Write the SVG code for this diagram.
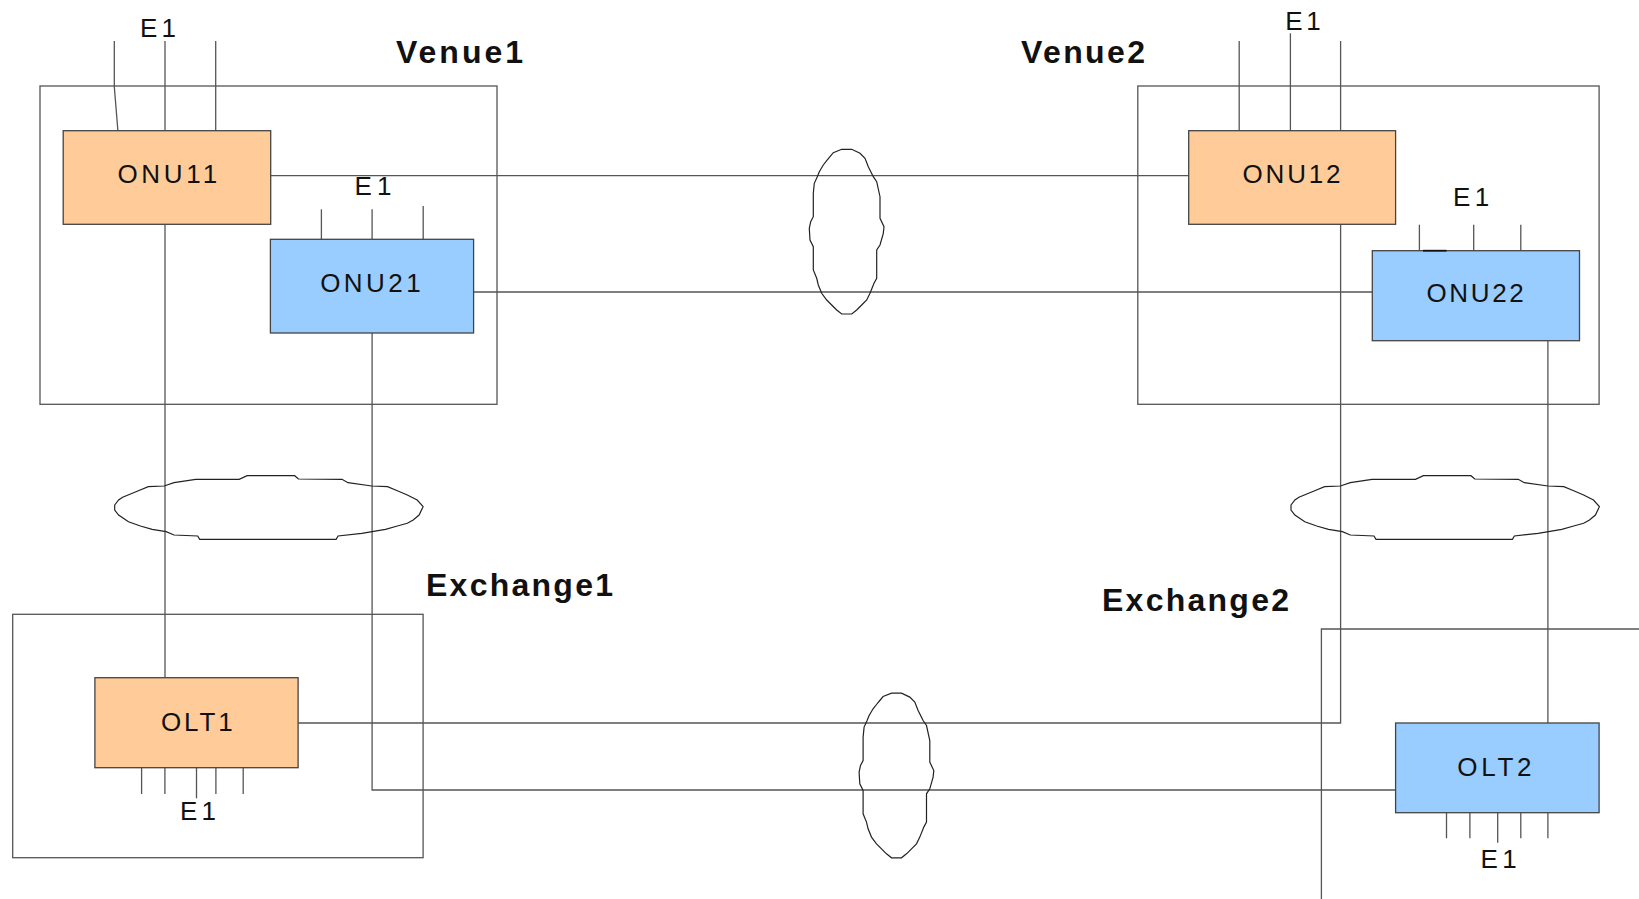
<svg xmlns="http://www.w3.org/2000/svg" xmlns:xlink="http://www.w3.org/1999/xlink" width="1639" height="899" viewBox="0 0 1639 899">
  <style>
    .area { fill: none; stroke: #555; stroke-width: 1.3; }
    .wire { fill: none; stroke: #555; stroke-width: 1.3; }
    .cloud { fill: none; stroke: #222; stroke-width: 1.2; stroke-linejoin: miter; }
    .onu1 { fill: #ffcc99; stroke: #444; stroke-width: 1.3; }
    .onu2 { fill: #99ccff; stroke: #444; stroke-width: 1.3; }
    .lbl { font-family: "Liberation Sans", Arial, sans-serif; font-size: 26px; fill: #111; }
    .title { font-family: "Liberation Sans", Arial, sans-serif; font-size: 32px; font-weight: bold; fill: #111; }
  </style>
  <defs>
    <!-- wide bundle ellipse, centred on 0,0 -->
    <polygon id="hcloud" class="cloud" points="-153.8,-2.2 -149.9,-7.2 -145.9,-9.9 -138,-13.2 -130.1,-16.5 -120.2,-20.5 -104.4,-21.2 -94.5,-24.5 -72.8,-27.9 -29.3,-27.9 -21.4,-31.5 26.1,-31.5 30,-28.2 73.5,-27.9 79.5,-24.5 103.2,-21.2 119,-20.5 128.9,-16.5 138.8,-12.2 148.7,-7.2 154.6,-0.5 150.6,7.8 144.7,12.8 138.8,16.1 128.9,18.8 117,22.1 93.3,26.1 69.6,28.8 67.6,32.1 -68.8,32.1 -70.8,28.8 -94.5,27.8 -102.4,24.5 -116.3,22.1 -128.1,18.8 -140,14.5 -149.9,7.8 -153.8,2.8"/>
    <!-- tall bundle ellipse, centred on 0,0 -->
    <polygon id="vcloud" class="cloud" points="-5.5,-82.4 4.5,-82.4 12.8,-78.4 17.8,-73.4 21.1,-65 26.1,-55 29.5,-50 32.8,-35 32.8,-13.4 36.8,-5 36.1,1.6 32.8,13.3 29.5,18.3 29.5,46.6 26.8,51.6 22.8,61.6 19.5,68.3 14.5,73.3 9.5,78.3 4.5,82.3 -5.5,82.3 -10.5,78.3 -15.5,73.3 -20.5,68.3 -25.5,61.6 -28.9,53.3 -30.5,46.6 -33.9,38.3 -33.9,15 -37.2,8.3 -37.9,-3.4 -36.5,-10 -33.9,-15 -33.9,-38.4 -32.9,-48.4 -29.9,-55 -27.9,-60 -23.9,-66.7 -20.5,-71 -17.2,-75 -13.9,-79"/>
  </defs>

  <rect width="1639" height="899" fill="#fff"/>

  <!-- site enclosures -->
  <g id="venue1">
    <rect class="area" x="40" y="86" width="457" height="318.3"/>
    <text class="title" x="396" y="63.3" textLength="127" lengthAdjust="spacing">Venue1</text>
  </g>
  <g id="venue2">
    <rect class="area" x="1137.8" y="86" width="461.3" height="318.3"/>
    <text class="title" x="1021" y="62.5" textLength="124" lengthAdjust="spacing">Venue2</text>
  </g>
  <g id="exchange1">
    <rect class="area" x="12.7" y="614.3" width="410.4" height="243.4"/>
    <text class="title" x="426" y="595.7" textLength="187" lengthAdjust="spacing">Exchange1</text>
  </g>
  <g id="exchange2">
    <polyline class="area" points="1639,629 1321.4,629 1321.4,899"/>
    <text class="title" x="1102" y="611" textLength="187" lengthAdjust="spacing">Exchange2</text>
  </g>

  <!-- fibre links and E1 tails -->
  <g id="connectors">
    <line class="wire" x1="270.7" y1="175.7" x2="1188.7" y2="175.7"/>
    <line class="wire" x1="473.6" y1="292" x2="1372.3" y2="292"/>
    <line class="wire" x1="165" y1="224.3" x2="165" y2="677.7"/>
    <polyline class="wire" points="372.1,333 372.1,790 1395.6,790"/>
    <polyline class="wire" points="298.1,723 1340.6,723 1340.6,224.3"/>
    <line class="wire" x1="1547.9" y1="340.7" x2="1547.9" y2="723"/>

    <!-- ONU11 E1 -->
    <polyline class="wire" points="114.3,41 114.3,86.7 117.9,130.7"/>
    <line class="wire" x1="165" y1="41" x2="165" y2="130.7"/>
    <line class="wire" x1="215.7" y1="41" x2="215.7" y2="130.7"/>
    <!-- ONU21 E1 -->
    <line class="wire" x1="321.4" y1="209.3" x2="321.4" y2="239.3"/>
    <line class="wire" x1="372.1" y1="209.3" x2="372.1" y2="239.3"/>
    <line class="wire" x1="423.2" y1="206" x2="423.2" y2="239.3"/>
    <!-- ONU12 E1 -->
    <line class="wire" x1="1239.2" y1="41" x2="1239.2" y2="130.7"/>
    <line class="wire" x1="1290.4" y1="33.3" x2="1290.4" y2="130.7"/>
    <line class="wire" x1="1340.6" y1="41" x2="1340.6" y2="130.7"/>
    <!-- ONU22 E1 -->
    <line class="wire" x1="1419.4" y1="224.7" x2="1419.4" y2="250.7"/>
    <line class="wire" x1="1473.7" y1="224.7" x2="1473.7" y2="250.7"/>
    <line class="wire" x1="1520.8" y1="224.7" x2="1520.8" y2="250.7"/>
    <!-- OLT1 E1 -->
    <line class="wire" x1="141.6" y1="767.7" x2="141.6" y2="794"/>
    <line class="wire" x1="164.9" y1="767.7" x2="164.9" y2="794"/>
    <line class="wire" x1="196.5" y1="767.7" x2="196.5" y2="798.3"/>
    <line class="wire" x1="215.9" y1="767.7" x2="215.9" y2="794"/>
    <line class="wire" x1="243.2" y1="767.7" x2="243.2" y2="794"/>
    <!-- OLT2 E1 -->
    <line class="wire" x1="1446.5" y1="812.7" x2="1446.5" y2="838.3"/>
    <line class="wire" x1="1469.9" y1="812.7" x2="1469.9" y2="838.3"/>
    <line class="wire" x1="1497.7" y1="812.7" x2="1497.7" y2="842.7"/>
    <line class="wire" x1="1520.8" y1="812.7" x2="1520.8" y2="838.3"/>
    <line class="wire" x1="1547.9" y1="812.7" x2="1547.9" y2="838.3"/>
  </g>

  <!-- cable bundles -->
  <g id="bundles">
    <use xlink:href="#hcloud" href="#hcloud" transform="translate(268.5,507.2)"/>
    <use xlink:href="#hcloud" href="#hcloud" transform="translate(1444.8,507.2)"/>
    <use xlink:href="#vcloud" href="#vcloud" transform="translate(847.2,231.7)"/>
    <use xlink:href="#vcloud" href="#vcloud" transform="translate(897,775.5)"/>
  </g>

  <!-- equipment -->
  <g id="onu11">
    <rect class="onu1" x="63.2" y="130.7" width="207.5" height="93.6"/>
    <text class="lbl" x="117.4" y="182.7" textLength="99.7" lengthAdjust="spacing">ONU11</text>
    <text class="lbl" x="140" y="36.7" textLength="36" lengthAdjust="spacing">E1</text>
  </g>
  <g id="onu21">
    <rect class="onu2" x="270.4" y="239.3" width="203.2" height="93.7"/>
    <text class="lbl" x="320.2" y="291.7" textLength="100.4" lengthAdjust="spacing">ONU21</text>
    <text class="lbl" x="354.4" y="195" textLength="37" lengthAdjust="spacing">E1</text>
  </g>
  <g id="onu12">
    <rect class="onu1" x="1188.7" y="130.7" width="206.9" height="93.6"/>
    <text class="lbl" x="1242.5" y="182.7" textLength="98" lengthAdjust="spacing">ONU12</text>
    <text class="lbl" x="1285.3" y="30" textLength="35.5" lengthAdjust="spacing">E1</text>
  </g>
  <g id="onu22">
    <rect class="onu2" x="1372.3" y="250.7" width="207.2" height="90"/>
    <line x1="1423" y1="250.7" x2="1446.5" y2="250.7" stroke="#111" stroke-width="1.8"/>
    <text class="lbl" x="1426.4" y="302.3" textLength="97.4" lengthAdjust="spacing">ONU22</text>
    <text class="lbl" x="1453.1" y="205.7" textLength="36" lengthAdjust="spacing">E1</text>
  </g>
  <g id="olt1">
    <rect class="onu1" x="94.9" y="677.7" width="203.2" height="90"/>
    <text class="lbl" x="160.9" y="730.7" textLength="71.9" lengthAdjust="spacing">OLT1</text>
    <text class="lbl" x="179.9" y="820" textLength="36" lengthAdjust="spacing">E1</text>
  </g>
  <g id="olt2">
    <rect class="onu2" x="1395.6" y="723" width="203.5" height="89.7"/>
    <text class="lbl" x="1457.3" y="776" textLength="74.2" lengthAdjust="spacing">OLT2</text>
    <text class="lbl" x="1480.6" y="868.3" textLength="36" lengthAdjust="spacing">E1</text>
  </g>
</svg>
